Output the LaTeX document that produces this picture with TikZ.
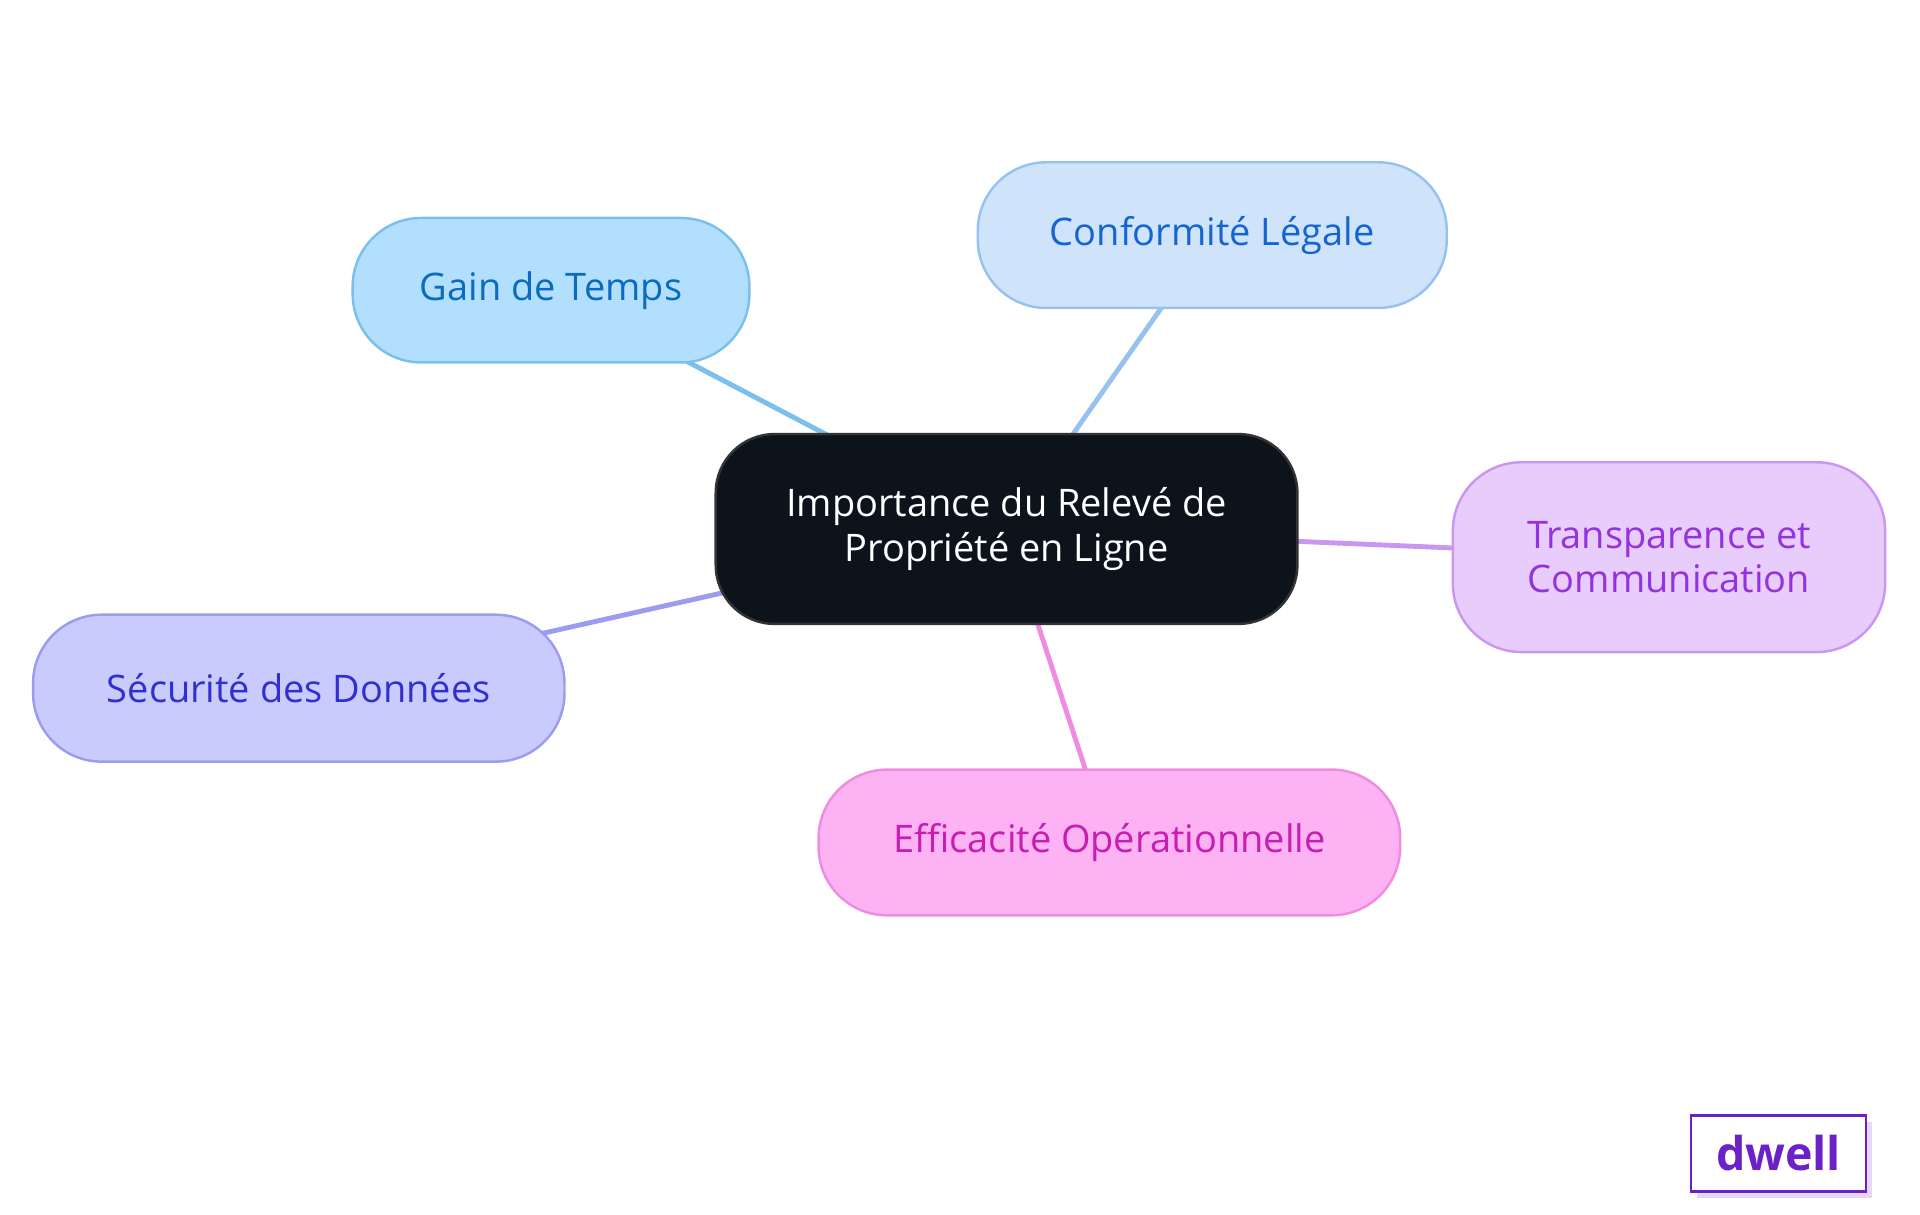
\documentclass[tikz,border=0pt]{standalone}
\usepackage{fontspec}
\setmainfont{Open Sans}
\usetikzlibrary{backgrounds}
\definecolor{cbg}{HTML}{0D131B}
\definecolor{gF}{HTML}{B3DFFF}\definecolor{gS}{HTML}{7BBFEF}\definecolor{gT}{HTML}{0A6BC0}
\definecolor{cF}{HTML}{CFE3FB}\definecolor{cS}{HTML}{97C2F0}\definecolor{cT}{HTML}{1565D0}
\definecolor{tF}{HTML}{E8CCFC}\definecolor{tS}{HTML}{C996F2}\definecolor{tT}{HTML}{9333E0}
\definecolor{sF}{HTML}{C9CBFD}\definecolor{sS}{HTML}{9A9CF0}\definecolor{sT}{HTML}{3030D0}
\definecolor{eF}{HTML}{FDB2F3}\definecolor{eS}{HTML}{EE8DE0}\definecolor{eT}{HTML}{C81DB0}
\definecolor{dw}{HTML}{6B21C8}\definecolor{dwS}{HTML}{E6D6FA}
\tikzset{
 leaf/.style={draw=#1S, fill=#1F, text=#1T, line width=1pt, rounded corners=28pt, align=center, font=\fontsize{15.5}{18}\selectfont, inner sep=0pt},
 edge/.style={line width=2pt}
}
\begin{document}
\begin{tikzpicture}[x=0.5pt,y=-0.5pt]
\useasboundingbox (0,0) rectangle (1568,992);
\node[fill=cbg, draw=black!80, line width=1pt, rounded corners=24pt, minimum width=237.5pt, minimum height=77.5pt, text=white, align=center, font=\fontsize{15.5}{18}\selectfont] (c) at (822,432) {Importance du Relevé de\\Propriété en Ligne};
\node[leaf=g, minimum width=162pt, minimum height=59pt] (g) at (450,237) {Gain de Temps};
\node[leaf=c, minimum width=191.5pt, minimum height=59.5pt] (k) at (990,192) {Conformité Légale};
\node[leaf=t, minimum width=176.5pt, minimum height=77.5pt] (t) at (1363,455) {Transparence et\\Communication};
\node[leaf=s, minimum width=217pt, minimum height=60pt] (s) at (244,562) {Sécurité des Données};
\node[leaf=e, minimum width=237.5pt, minimum height=59.5pt] (e) at (906,688) {Efficacité Opérationnelle};
\begin{scope}[on background layer]
\draw[edge, gS] (c.center) -- (g.center);
\draw[edge, cS] (c.center) -- (k.center);
\draw[edge, tS] (c.center) -- (t.center);
\draw[edge, sS] (c.center) -- (s.center);
\draw[edge, eS] (c.center) -- (e.center);
\end{scope}
\fill[dwS] (1386,916) rectangle (1529,978);
\node[draw=dw, fill=white, line width=1pt, minimum width=71.5pt, minimum height=31pt, text=dw, font=\fontsize{19}{20}\selectfont\bfseries, inner sep=0pt] (d) at (1452.5,942) {dwell};
\end{tikzpicture}
\end{document}
